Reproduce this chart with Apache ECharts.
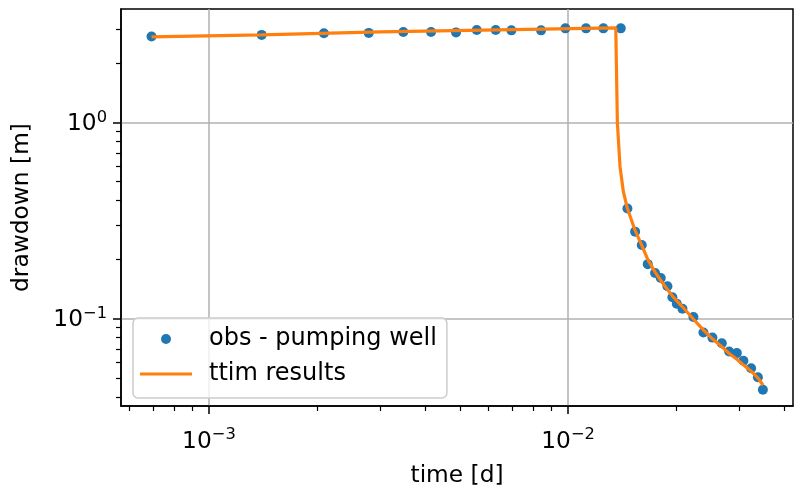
<!DOCTYPE html>
<html>
<head>
<meta charset="utf-8">
<script src="https://cdn.jsdelivr.net/npm/echarts@6/dist/echarts.min.js"></script>
<style>
html,body{margin:0;padding:0;background:#fff;}
#chart{width:794px;height:492px;}
</style>
</head>
<body>
<div id="chart"></div>
<script>
// ---- data ----
const obsTime = [0.000692, 0.001402, 0.00209, 0.002786, 0.003477, 0.004154, 0.004875, 0.005568, 0.006288, 0.006953,
  0.00841, 0.00983, 0.01122, 0.01254, 0.01402,
  0.01463, 0.01537, 0.01604, 0.01667, 0.01747, 0.01812, 0.01891, 0.01952, 0.02008, 0.02082,
  0.02234, 0.02382, 0.02523, 0.0268, 0.02809, 0.02951, 0.03078, 0.03234, 0.03377, 0.03487];
const obsDrawdown = [2.742, 2.797, 2.853, 2.863, 2.896, 2.896, 2.88, 2.964, 2.964, 2.95,
  2.95, 3.02, 3.02, 3.02, 3.02,
  0.3643, 0.2778, 0.2375, 0.1897, 0.1709, 0.1612, 0.1464, 0.1287, 0.1191, 0.1123,
  0.102, 0.085, 0.0801, 0.075, 0.0681, 0.0668, 0.0611, 0.0559, 0.0503, 0.0434];

const modelTime = [0.000692, 0.0014, 0.002995, 0.013578,
  0.013718, 0.013954, 0.014256, 0.01463, 0.01537, 0.01604, 0.0167, 0.01747, 0.01816, 0.01887,
  0.01961, 0.02082, 0.02229, 0.02377, 0.02518, 0.02685, 0.02809, 0.02957, 0.03076, 0.03234, 0.03383, 0.03492];
const modelDrawdown = [2.732, 2.797, 2.896, 3.034,
  1.0, 0.594, 0.444, 0.3643, 0.2819, 0.2367, 0.1988, 0.1729, 0.1557, 0.1418,
  0.1292, 0.115, 0.1, 0.088, 0.0792, 0.0718, 0.0665, 0.062, 0.0582, 0.054, 0.0497, 0.0458];

const xMajorTicks = [0.001, 0.01];
const xMinorTicks = [0.0006, 0.0007, 0.0008, 0.0009, 0.002, 0.003, 0.004, 0.005, 0.006, 0.007, 0.008, 0.009, 0.02, 0.03, 0.04];
const yMajorTicks = [0.1, 1];
const yMinorTicks = [0.04, 0.05, 0.06, 0.07, 0.08, 0.09, 0.2, 0.3, 0.4, 0.5, 0.6, 0.7, 0.8, 0.9, 2, 3];
const xLimits = [0.000569, 0.0423];
const yLimits = [0.0359, 3.79];

const seriesNames = ['obs - pumping well', 'ttim results'];
const axisNames = ['time [d]', 'drawdown [m]'];

// ---- chart ----
const FONT = 'DejaVu Sans';
const FS = 23.3;
const obsData = obsTime.map((t, i) => [t, obsDrawdown[i]]);
const modelData = modelTime.map((t, i) => [t, modelDrawdown[i]]);

function powLabel(v) {
  const e = Math.round(Math.log10(v));
  return '{b|10}{s|' + (e < 0 ? '\u2212' + (-e) : String(e)) + '}';
}
const richLabel = {
  b: {fontFamily: FONT, fontSize: FS, color: '#000', lineHeight: 26, verticalAlign: 'bottom'},
  s: {fontFamily: FONT, fontSize: 16.3, color: '#000', lineHeight: 14, verticalAlign: 'top'}
};

const chart = echarts.init(document.getElementById('chart'), null, {renderer: 'canvas'});
chart.setOption({
  animation: false,
  backgroundColor: '#fff',
  grid: {left: 121, right: 1, top: 9, bottom: 83, show: true, borderColor: '#000', borderWidth: 1.5, backgroundColor: '#fff'},
  legend: {
    left: 133, top: 318,
    orient: 'vertical',
    data: [
      {name: seriesNames[0], icon: 'circle'},
      {name: seriesNames[1], icon: 'path://M0,0L52,0L52,3.2L0,3.2Z'}
    ],
    symbolKeepAspect: true,
    itemWidth: 52, itemHeight: 10, itemGap: 11,
    padding: [9, 10, 12, 7],
    backgroundColor: 'rgba(255,255,255,0.8)',
    borderColor: '#cccccc', borderWidth: 1.5, borderRadius: 5,
    textStyle: {fontFamily: FONT, fontSize: 24, color: '#000', padding: [0, 0, 0, 12]}
  },
  xAxis: [
    {
      type: 'log', logBase: 10, min: xLimits[0], max: xLimits[1], position: 'bottom',
      name: axisNames[0], nameLocation: 'middle', nameGap: 58,
      nameTextStyle: {fontFamily: FONT, fontSize: FS, color: '#000'},
      axisLine: {show: true, lineStyle: {color: '#000', width: 1.5}},
      axisTick: {show: true, length: 8, lineStyle: {color: '#000', width: 1.5}, customValues: xMajorTicks},
      axisLabel: {customValues: xMajorTicks, formatter: powLabel, rich: richLabel, margin: 21},
      splitLine: {show: true, lineStyle: {color: '#b0b0b0', width: 1.5}},
      minorTick: {show: false}, minorSplitLine: {show: false}
    },
    {
      type: 'log', logBase: 10, min: xLimits[0], max: xLimits[1], position: 'bottom',
      axisLine: {show: false},
      axisTick: {show: true, length: 5, lineStyle: {color: '#000', width: 1.2}, customValues: xMinorTicks},
      axisLabel: {show: false},
      splitLine: {show: false}
    }
  ],
  yAxis: [
    {
      type: 'log', logBase: 10, min: yLimits[0], max: yLimits[1], position: 'left',
      name: axisNames[1], nameLocation: 'middle', nameGap: 88, nameRotate: 90,
      nameTextStyle: {fontFamily: FONT, fontSize: FS, color: '#000'},
      axisLine: {show: true, lineStyle: {color: '#000', width: 1.5}},
      axisTick: {show: true, length: 8, lineStyle: {color: '#000', width: 1.5}, customValues: yMajorTicks},
      axisLabel: {customValues: yMajorTicks, formatter: powLabel, rich: richLabel, margin: 14},
      splitLine: {show: true, lineStyle: {color: '#b0b0b0', width: 1.5}},
      minorTick: {show: false}, minorSplitLine: {show: false}
    },
    {
      type: 'log', logBase: 10, min: yLimits[0], max: yLimits[1], position: 'left',
      axisLine: {show: false},
      axisTick: {show: true, length: 5, lineStyle: {color: '#000', width: 1.2}, customValues: yMinorTicks},
      axisLabel: {show: false},
      splitLine: {show: false}
    }
  ],
  series: [
    {
      name: seriesNames[0], type: 'scatter', xAxisIndex: 0, yAxisIndex: 0,
      data: obsData, symbol: 'circle', symbolSize: 10,
      itemStyle: {color: '#1f77b4', opacity: 1}, z: 2
    },
    {
      name: seriesNames[1], type: 'line', xAxisIndex: 0, yAxisIndex: 0,
      data: modelData, showSymbol: false, symbol: 'none',
      lineStyle: {color: '#ff7f0e', width: 3.2}, itemStyle: {color: '#ff7f0e'}, z: 3
    }
  ]
});
</script>
</body>
</html>
